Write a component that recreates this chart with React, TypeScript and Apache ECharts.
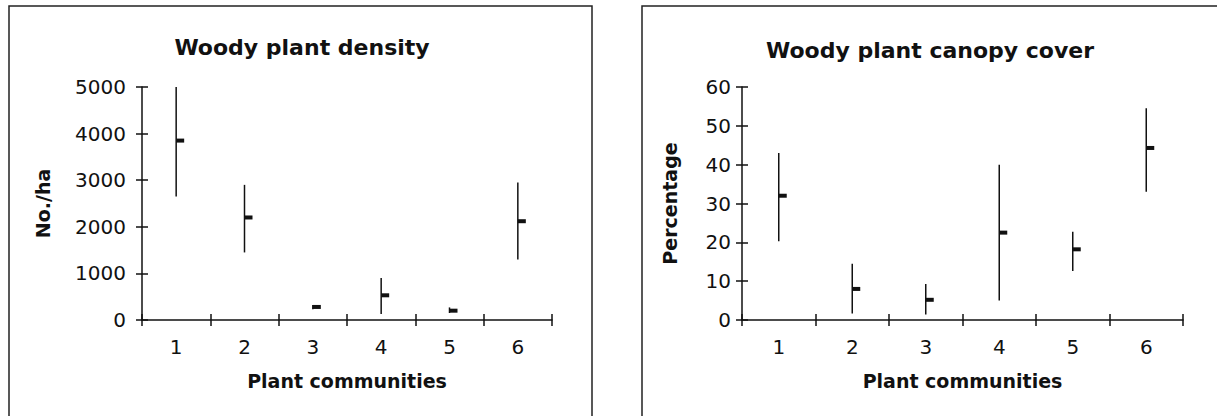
import React, { useEffect, useRef } from "react";
import * as echarts from "echarts";

const categories = ["1", "2", "3", "4", "5", "6"];

// Woody plant density (No./ha)
const densityLow = [2650, 1450, 230, 130, 150, 1300];
const densityHigh = [5000, 2900, 320, 900, 270, 2950];
const densityMean = [3850, 2200, 280, 530, 200, 2120];

// Woody plant canopy cover (%)
const coverLow = [20.3, 1.7, 1.4, 5, 12.6, 33];
const coverHigh = [43, 14.5, 9.3, 40, 22.7, 54.5];
const coverMean = [32, 8, 5.2, 22.5, 18.2, 44.3];

const FONT = "DejaVu Sans";

function renderHLC(params: any, api: any) {
  const x = api.value(0);
  const pLow = api.coord([x, api.value(1)]);
  const pHigh = api.coord([x, api.value(2)]);
  const pMean = api.coord([x, api.value(3)]);
  return {
    type: "group",
    children: [
      {
        type: "line",
        shape: { x1: pLow[0], y1: pLow[1], x2: pHigh[0], y2: pHigh[1] },
        style: { stroke: "#111", lineWidth: 1.5 },
      },
      {
        type: "rect",
        shape: { x: pMean[0], y: pMean[1] - 2, width: 8, height: 4 },
        style: { fill: "#111" },
      },
    ],
  };
}

export default function App() {
  const ref = useRef<HTMLDivElement>(null);
  useEffect(() => {
    if (!ref.current) return;
    const chart = echarts.init(ref.current, undefined, { renderer: "svg" });

    const axisLine = { show: true, lineStyle: { color: "#111", width: 1.5 } };
    const tickOut = { show: true, length: 6, lineStyle: { color: "#111", width: 1.5 } };
    const tickIn = { show: true, inside: true, length: 6, lineStyle: { color: "#111", width: 1.5 } };
    const labelStyle = { fontFamily: FONT, fontSize: 20, color: "#111" };
    const nameStyle = { fontFamily: FONT, fontSize: 19, fontWeight: "bold", color: "#111" };

    const makeX = (gi: number, main: boolean) => ({
      type: "category",
      gridIndex: gi,
      data: categories,
      position: "bottom",
      offset: 0,
      boundaryGap: true,
      axisLine: main ? axisLine : { show: false },
      axisTick: main ? tickOut : tickIn,
      axisLabel: main ? { ...labelStyle, margin: 17 } : { show: false },
      splitLine: { show: false },
      name: main ? "Plant communities" : "",
      nameLocation: "middle",
      nameGap: 51,
      nameTextStyle: nameStyle,
    });

    const makeY = (
      gi: number,
      main: boolean,
      max: number,
      interval: number,
      name: string,
      nameGap: number,
      margin: number
    ) => ({
      type: "value",
      gridIndex: gi,
      position: "left",
      offset: 0,
      min: 0,
      max,
      interval,
      axisLine: main ? axisLine : { show: false },
      axisTick: main ? tickOut : tickIn,
      axisLabel: main
        ? { ...labelStyle, margin, formatter: (v: number) => String(v) }
        : { show: false },
      splitLine: { show: false },
      name: main ? name : "",
      nameLocation: "middle",
      nameGap,
      nameRotate: 90,
      nameTextStyle: nameStyle,
    });

    chart.setOption({
      animation: false,
      backgroundColor: "#fff",
      grid: [
        { left: 142, right: 1217 - 552, top: 87, bottom: 416 - 320, containLabel: false },
        { left: 742, right: 1217 - 1183, top: 87, bottom: 416 - 320, containLabel: false },
      ],
      xAxis: [makeX(0, true), makeX(0, false), makeX(1, true), makeX(1, false)],
      yAxis: [
        makeY(0, true, 5000, 1000, "No./ha", 90, 16),
        makeY(0, false, 5000, 1000, "", 90, 16),
        makeY(1, true, 60, 10, "Percentage", 63, 11),
        makeY(1, false, 60, 10, "", 63, 11),
      ],
      graphic: [
        {
          type: "rect",
          shape: { x: 9, y: 6, width: 583, height: 430 },
          style: { fill: "none", stroke: "#222", lineWidth: 1.5 },
          silent: true,
        },
        {
          type: "rect",
          shape: { x: 642, y: 6, width: 600, height: 430 },
          style: { fill: "none", stroke: "#222", lineWidth: 1.5 },
          silent: true,
        },
        {
          type: "text",
          x: 302,
          y: 47,
          style: {
            text: "Woody plant density",
            fontFamily: FONT,
            fontSize: 22,
            fontWeight: "bold",
            fill: "#111",
            textAlign: "center",
            textVerticalAlign: "middle",
          },
        },
        {
          type: "text",
          x: 930,
          y: 50,
          style: {
            text: "Woody plant canopy cover",
            fontFamily: FONT,
            fontSize: 22,
            fontWeight: "bold",
            fill: "#111",
            textAlign: "center",
            textVerticalAlign: "middle",
          },
        },
      ],
      series: [
        {
          type: "custom",
          name: "Woody plant density",
          xAxisIndex: 0,
          yAxisIndex: 0,
          renderItem: renderHLC,
          encode: { x: 0, y: [1, 2, 3] },
          data: categories.map((c, i) => [i, densityLow[i], densityHigh[i], densityMean[i]]),
        },
        {
          type: "custom",
          name: "Woody plant canopy cover",
          xAxisIndex: 2,
          yAxisIndex: 2,
          renderItem: renderHLC,
          encode: { x: 0, y: [1, 2, 3] },
          data: categories.map((c, i) => [i, coverLow[i], coverHigh[i], coverMean[i]]),
        },
      ],
    });
    return () => chart.dispose();
  }, []);
  return (
    <div
      ref={ref}
      style={{ position: "absolute", left: 0, top: 0, width: 1217, height: 416 }}
    />
  );
}
